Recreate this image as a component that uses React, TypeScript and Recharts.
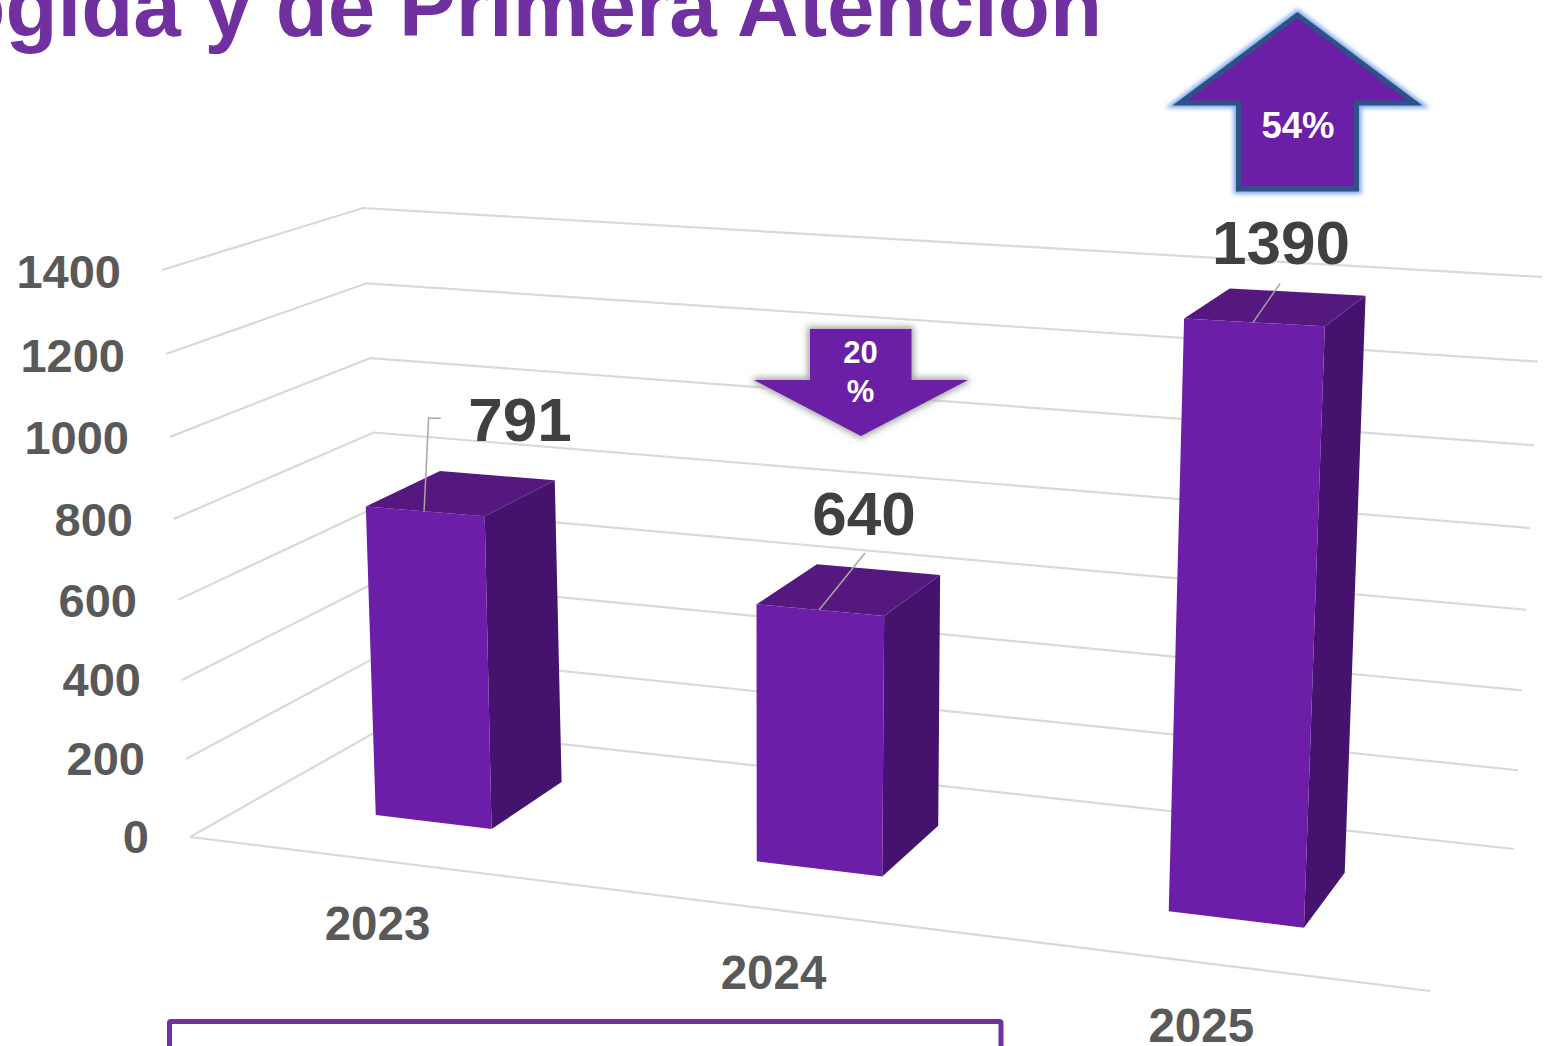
import React from "react";
import { Bar, BarChart, CartesianGrid, XAxis, YAxis } from "recharts";

const years = ["2023", "2024", "2025"];
const attentions = [791, 640, 1390];
const valueTicks = [0, 200, 400, 600, 800, 1000, 1200, 1400];
const titleText = "ogida y de Primera Atención";

const GREY_LINE = "#D9D9D9";
const AXIS_TEXT = "#595959";
const LABEL_TEXT = "#404040";
const FRONT = "#6C1EA8";
const TOP = "#54187F";
const SIDE = "#45126E";
const FONT = "'Liberation Sans', Arial, sans-serif";

const data = years.map((year, i) => ({ year, value: attentions[i] }));

// the middle bar sits a little lower in the original's perspective
const heightTrim = [1, 0.985, 1];

// label anchor and leader line, relative to the middle of the bar's front top edge
const labelOffsets = [
  { dx: 96, dy: -70, leader: [[16.5, -93], [4.5, -93], [0, 0]] },
  { dx: 45, dy: -75, leader: [[46, -57], [0, 0]] },
  { dx: 28, dy: -58, leader: [[27, -39], [0, 0]] },
];

// The plain chart is flat, this bends its pixels into the PowerPoint style 3D view
function project(px: number, h: number, back = false) {
  const t = (px - 376) / 396.5;
  const bx = 376 + 365.5 * t + 15.5 * t * t;
  const by = 815 + 0.1215 * (bx - 376);
  const H = (h * (0.39 + (bx - 376) * 4.6e-5)) / 0.405;
  const lean = bx < 770 ? 7.05e-5 - (bx - 770) * 2.9e-8 : 6.5e-5;
  const fx = bx + (bx - 770) * lean * H;
  const fy = by - H;
  if (!back) return [fx, fy];
  const dx = 70 - (bx - 492) * 0.036;
  const dy = (47 + (bx - 492) * 0.0098) * (1 - 7.4e-4 * H);
  return [fx + dx, fy - dy];
}

const poly = (pts: number[][]) => pts.map((p) => p.join(",")).join(" ");

function Bar3D(props: any) {
  const { x, width, index } = props;
  const height = props.height * heightTrim[index];
  const a = project(x, height);
  const b = project(x + width, height);
  const c = project(x + width, 0);
  const d = project(x, 0);
  const aBack = project(x, height, true);
  const bBack = project(x + width, height, true);
  const cBack = project(x + width, 0, true);
  return (
    <g>
      <polygon points={poly([b, bBack, cBack, c])} fill={SIDE} />
      <polygon points={poly([a, aBack, bBack, b])} fill={TOP} />
      <polygon points={poly([a, b, c, d])} fill={FRONT} />
    </g>
  );
}

function ValueLabel(props: any) {
  const box = props.viewBox ?? props;
  const { x, width } = box;
  const { value, index } = props;
  const height = box.height * heightTrim[index];
  const a = project(x, height);
  const b = project(x + width, height);
  const mx = a[0] + (b[0] - a[0]) * 0.49;
  const my = a[1] + (b[1] - a[1]) * 0.49;
  const o = labelOffsets[index];
  return (
    <g>
      <polyline
        points={poly(o.leader.map((p) => [mx + p[0], my + p[1]]))}
        fill="none"
        stroke="#A6A6A6"
        strokeWidth={1.5}
      />
      <text
        x={mx + o.dx}
        y={my + o.dy}
        textAnchor="middle"
        fontFamily={FONT}
        fontWeight="bold"
        fontSize={62}
        fill={LABEL_TEXT}
      >
        {value}
      </text>
    </g>
  );
}

function YearTick(props: any) {
  const { x, payload } = props;
  const t = (x - 376) / 396.5;
  const bx = 376 + 365.5 * t + 15.5 * t * t;
  const by = 815 + 0.1215 * (bx - 376);
  return (
    <text
      x={bx - 56 + (bx - 433) * 0.0262}
      y={by + 118 + (bx - 433) * 0.0062}
      textAnchor="middle"
      fontFamily={FONT}
      fontWeight="bold"
      fontSize={47.5}
      fill={AXIS_TEXT}
    >
      {payload.value}
    </text>
  );
}

function ValueTick(props: any) {
  const { y, payload } = props;
  const f = payload.value / 1400;
  return (
    <text
      x={149 - 28 * f}
      y={y + 16 + 2 * f + 24 * f * (1 - f)}
      textAnchor="end"
      fontFamily={FONT}
      fontWeight="bold"
      fontSize={47}
      fill={AXIS_TEXT}
    >
      {payload.value}
    </text>
  );
}

// Each grid line runs along the side wall and then the back wall
function WallLine(props: any) {
  const f = (837 - props.y1) / 567;
  const bow = f * (1 - f);
  const left = [190 - 28 * f, 837 - 567 * f + 24 * bow];
  const corner = [388 - 25 * f, 725 - 517 * f + 12 * bow];
  const right = [1514 + 28 * f, 849 - 572 * f + 24 * bow];
  const isFloor = Math.abs(f) < 0.001;
  return (
    <g key={props.index}>
      <polyline points={poly([left, corner, right])} fill="none" stroke={GREY_LINE} strokeWidth={2.2} />
      {isFloor && (
        <polyline points={poly([left, [1430, 991]])} fill="none" stroke={GREY_LINE} strokeWidth={2.2} />
      )}
    </g>
  );
}

const upArrow = "M1297.5 15 L1180 103 L1238.5 103 L1238.5 189 L1356.5 189 L1356.5 103 L1415 103 Z";
const downArrow = "M810 329 L911.5 329 L911.5 380 L968 380 L861 436 L754 380 L810 380 Z";

function Overlay() {
  return (
    <svg width={1552} height={1046} style={{ position: "absolute", left: 0, top: 0 }}>
      <defs>
        <filter id="glow" x="-20%" y="-20%" width="140%" height="140%">
          <feGaussianBlur stdDeviation="2.2" />
        </filter>
        <filter id="shade" x="-20%" y="-20%" width="140%" height="140%">
          <feGaussianBlur stdDeviation="3" />
        </filter>
      </defs>
      <text
        x={1102}
        y={36}
        textAnchor="end"
        fontFamily={FONT}
        fontWeight="bold"
        fontSize={85.3}
        fill="#7030A0"
      >
        {titleText}
      </text>

      <path d={upArrow} fill="#7FAAF0" stroke="#7FAAF0" strokeWidth={10} filter="url(#glow)" />
      <path d={upArrow} fill="#6B1FA6" stroke="#2F5286" strokeWidth={5} />
      <text x={1298} y={138} textAnchor="middle" fontFamily={FONT} fontWeight="bold" fontSize={36.5} fill="#FFFFFF">
        54%
      </text>

      <path d={downArrow} fill="#A6A6A6" stroke="#A6A6A6" strokeWidth={5} filter="url(#shade)" />
      <path d={downArrow} fill="#6B1FA6" />
      <text textAnchor="middle" fontFamily={FONT} fontWeight="bold" fontSize={31} fill="#FFFFFF">
        <tspan x={860.5} y={362.5}>20</tspan>
        <tspan x={860.5} y={402}>%</tspan>
      </text>

      <path d="M169.5 1060 L169.5 1023 Q169.5 1021.5 171 1021.5 L999 1021.5 Q1001 1021.5 1001 1023 L1001 1060" fill="none" stroke="#7030A0" strokeWidth={5} />
    </svg>
  );
}

export default function App() {
  return (
    <div style={{ position: "absolute", left: 0, top: 0, width: 1552, height: 1046, overflow: "hidden", background: "#fff" }}>
      <BarChart
        width={1552}
        height={1046}
        data={data}
        barSize={124}
        margin={{ top: 270, right: 122.75, bottom: 0, left: 0 }}
      >
        <CartesianGrid vertical={false} horizontal={WallLine} />
        <XAxis
          dataKey="year"
          height={209}
          axisLine={false}
          tickLine={false}
          interval={0}
          tick={YearTick}
        />
        <YAxis
          width={239.75}
          domain={[0, 1400]}
          ticks={valueTicks}
          interval={0}
          axisLine={false}
          tickLine={false}
          tick={ValueTick}
        />
        <Bar dataKey="value" shape={Bar3D} label={ValueLabel} isAnimationActive={false} />
      </BarChart>
      <Overlay />
    </div>
  );
}
